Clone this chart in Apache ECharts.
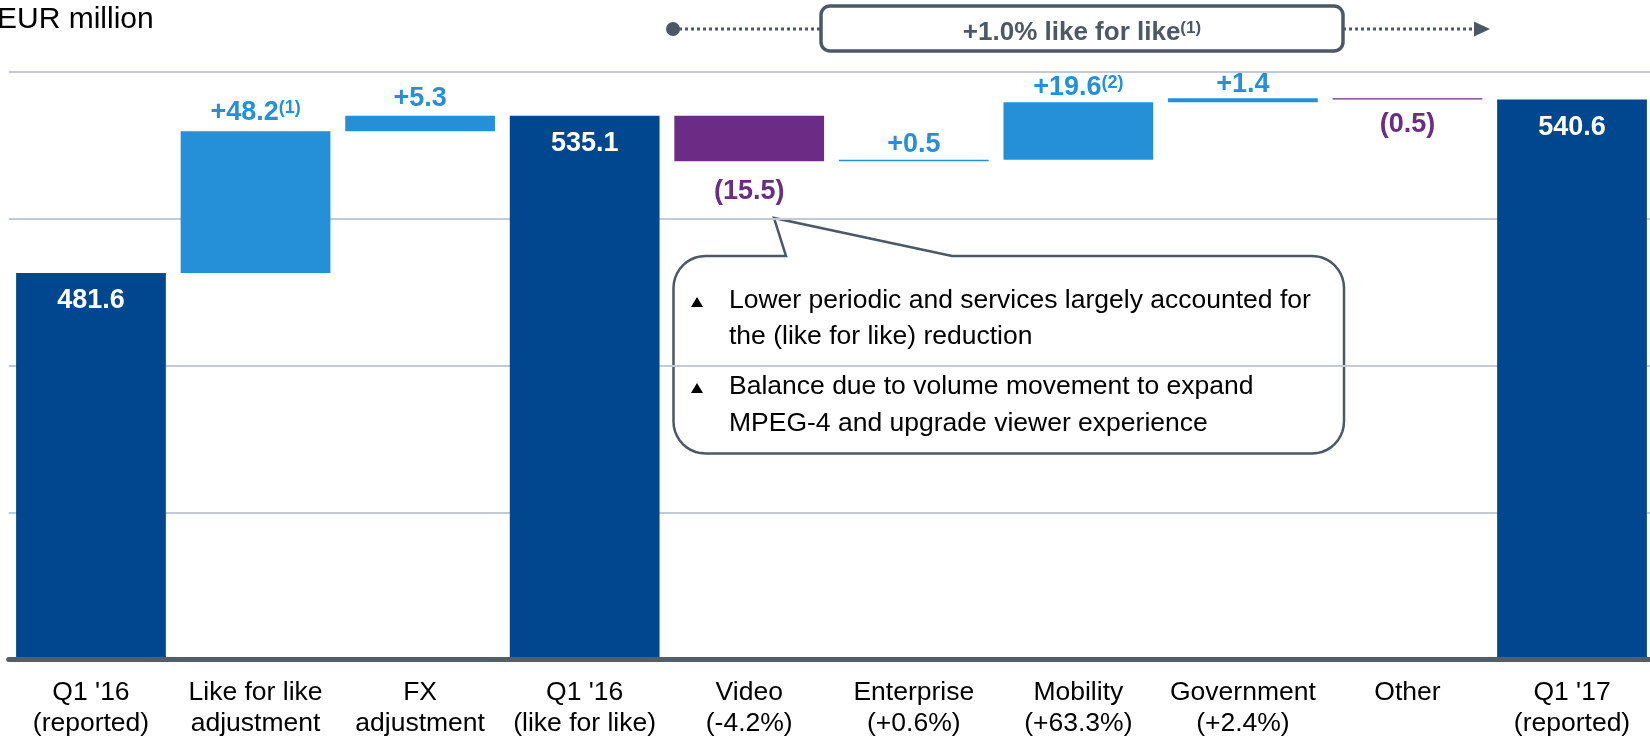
<!DOCTYPE html>
<html>
<head>
<meta charset="utf-8">
<title>Revenue bridge</title>
<script src="https://cdn.jsdelivr.net/npm/echarts@6.0.0/dist/echarts.min.js"></script>
<style>
  html, body { margin: 0; padding: 0; background: #ffffff; }
  #chart { width: 1650px; height: 739px; }
</style>
</head>
<body>
<div id="chart"></div>
<script>
const categories = [
  "Q1 '16\n(reported)",
  "Like for like\nadjustment",
  "FX\nadjustment",
  "Q1 '16\n(like for like)",
  "Video\n(-4.2%)",
  "Enterprise\n(+0.6%)",
  "Mobility\n(+63.3%)",
  "Government\n(+2.4%)",
  "Other",
  "Q1 '17\n(reported)",
];
const steps = [481.6, 48.2, 5.3, 535.1, -15.5, 0.5, 19.6, 1.4, -0.5, 540.6];
const kinds = ["total", "up", "up", "total", "down", "up", "up", "up", "down", "total"];
const notes = ["", "(1)", "", "", "", "", "(2)", "", "", ""];
const yTicks = [350, 400, 450, 500, 550];

// label gap from bar edge, per bar
const labelGaps = [14, 5, 4, 14, 17, 2, 1, 0, 11, 14];

const FONT = "'Liberation Sans', Arial, sans-serif";
const colors = { total: "#00478f", up: "#2590d8", down: "#6b2c85" };
const slate = "#4d5866";

const chartElement = document.getElementById("chart");
const chart = echarts.init(chartElement);

// running totals -> invisible base + visible segment
const bases = [];
const heights = [];
const labelTexts = [];
let running = 0;
steps.forEach((step, i) => {
  if (kinds[i] === "total") {
    running = step;
    bases.push(0);
    heights.push(step);
    labelTexts.push(step.toFixed(1));
  } else if (kinds[i] === "up") {
    bases.push(running);
    heights.push(step);
    running += step;
    labelTexts.push(`+${step.toFixed(1)}`);
  } else {
    running += step;
    bases.push(running);
    heights.push(-step);
    labelTexts.push(`(${(-step).toFixed(1)})`);
  }
});

const visibleData = heights.map((h, i) => {
  const kind = kinds[i];
  let position = "top";
  let color = colors.up;
  if (kind === "total") {
    position = "insideTop";
    color = "#ffffff";
  } else if (kind === "down") {
    position = "bottom";
    color = colors.down;
  }
  return {
    value: h,
    itemStyle: { color: colors[kind] },
    label: { position: position, distance: labelGaps[i], color: color },
  };
});

// speech bubble outline: rounded box with a pointer on the top edge
function bubblePoints(x0, y0, x1, y1, r, tip) {
  const pts = [];
  const arc = (cx, cy, a0, a1) => {
    for (let k = 0; k <= 10; k++) {
      const a = a0 + ((a1 - a0) * k) / 10;
      pts.push([cx + r * Math.cos(a), cy + r * Math.sin(a)]);
    }
  };
  arc(x0 + r, y0 + r, Math.PI, Math.PI * 1.5);
  pts.push([tip.left, y0], [tip.x, tip.y], [tip.right, y0]);
  arc(x1 - r, y0 + r, Math.PI * 1.5, Math.PI * 2);
  arc(x1 - r, y1 - r, 0, Math.PI * 0.5);
  arc(x0 + r, y1 - r, Math.PI * 0.5, Math.PI);
  return pts;
}
const calloutPoints = bubblePoints(673.5, 256, 1344, 453.5, 32, { left: 786, x: 774, y: 218, right: 952 });

function bullet(cx, cy) {
  return {
    type: "polygon",
    shape: { points: [[cx - 6, cy + 5], [cx + 6, cy + 5], [cx, cy - 5]] },
    style: { fill: "#000000" },
  };
}

chart.setOption({
  backgroundColor: "#ffffff",
  animation: false,
  grid: {
    left: 8.7,
    width: 1645.6,
    top: 72,
    bottom: 79.5,
    containLabel: false,
    outerBoundsMode: "none",
  },
  xAxis: {
    type: "category",
    data: categories,
    z: 5,
    axisLine: { lineStyle: { color: "#545e6a", width: 5 } },
    axisTick: { show: false },
    axisLabel: {
      color: "#000000",
      fontFamily: FONT,
      fontSize: 26.5,
      lineHeight: 31,
      margin: 18,
      interval: 0,
    },
  },
  yAxis: {
    type: "value",
    min: yTicks[0],
    max: yTicks[yTicks.length - 1],
    interval: yTicks[1] - yTicks[0],
    axisLine: { show: false },
    axisTick: { show: false },
    axisLabel: { show: false },
    splitLine: { lineStyle: { color: "#c3cad3", width: 2 } },
  },
  series: [
    {
      name: "base",
      type: "bar",
      stack: "bridge",
      barCategoryGap: "9%",
      itemStyle: { color: "transparent" },
      emphasis: { disabled: true },
      data: bases,
    },
    {
      name: "value",
      type: "bar",
      stack: "bridge",
      barCategoryGap: "9%",
      emphasis: { disabled: true },
      label: {
        show: true,
        fontFamily: FONT,
        fontSize: 27,
        fontWeight: "bold",
        formatter: (params) => {
          const i = params.dataIndex;
          return labelTexts[i] + (notes[i] ? `{s|${notes[i]}}` : "");
        },
        rich: {
          s: {
            fontFamily: FONT,
            fontSize: 18,
            fontWeight: "bold",
            color: colors.up,
            verticalAlign: "top",
            padding: [0, 0, 8, 0],
          },
        },
      },
      data: visibleData,
    },
  ],
  graphic: [
    {
      type: "text",
      left: -3,
      top: 5,
      style: { text: "EUR million", font: `30px ${FONT}`, fill: "#000000" },
    },
    // like-for-like bracket at top
    {
      type: "line",
      shape: { x1: 673, y1: 29, x2: 821, y2: 29 },
      style: { stroke: slate, lineWidth: 3, lineDash: [3, 3] },
    },
    {
      type: "line",
      shape: { x1: 1343, y1: 29, x2: 1476, y2: 29 },
      style: { stroke: slate, lineWidth: 3, lineDash: [3, 3] },
    },
    {
      type: "circle",
      shape: { cx: 673, cy: 29, r: 7 },
      style: { fill: slate },
    },
    {
      type: "polygon",
      shape: { points: [[1474, 21.5], [1490, 29], [1474, 36.5]] },
      style: { fill: slate },
    },
    {
      type: "rect",
      shape: { x: 821, y: 6, width: 522, height: 45, r: 9 },
      style: { fill: "#ffffff", stroke: slate, lineWidth: 3.5 },
    },
    {
      type: "text",
      x: 1082,
      y: 33,
      style: {
        text: "+1.0% like for like{s|(1)}",
        font: `bold 26px ${FONT}`,
        fill: slate,
        align: "center",
        verticalAlign: "middle",
        rich: {
          s: {
            fontFamily: FONT,
            fontSize: 17,
            fontWeight: "bold",
            fill: slate,
            verticalAlign: "top",
            padding: [0, 0, 8, 0],
          },
        },
      },
    },
    // callout for video
    {
      type: "polygon",
      shape: { points: calloutPoints },
      style: { fill: "#ffffff", stroke: slate, lineWidth: 2.5 },
    },
    bullet(697, 302),
    bullet(697, 388),
    {
      type: "text",
      x: 729,
      y: 282,
      style: {
        text: "Lower periodic and services largely accounted for\nthe (like for like) reduction",
        font: `26.5px ${FONT}`,
        lineHeight: 36.5,
        fill: "#000000",
      },
    },
    {
      type: "text",
      x: 729,
      y: 368.5,
      style: {
        text: "Balance due to volume movement to expand\nMPEG-4 and upgrade viewer experience",
        font: `26.5px ${FONT}`,
        lineHeight: 36.5,
        fill: "#000000",
      },
    },
  ],
});

window.addEventListener("resize", () => chart.resize());
</script>
</body>
</html>
